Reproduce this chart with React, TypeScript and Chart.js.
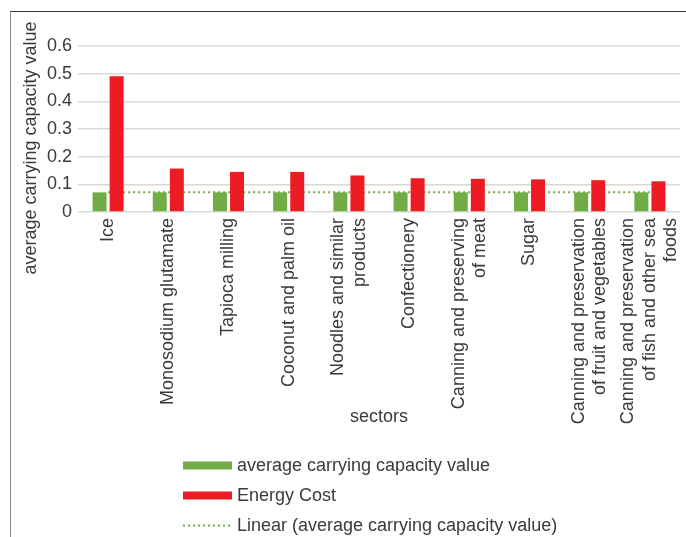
import React, { useEffect, useRef } from "react";
import { Chart, registerables } from "chart.js";

Chart.register(...registerables);

const sectors: string[][] = [
  ["Ice"],
  ["Monosodium glutamate"],
  ["Tapioca milling"],
  ["Coconut and palm oil"],
  ["Noodles and similar", "products"],
  ["Confectionery"],
  ["Canning and preserving", "of meat"],
  ["Sugar"],
  ["Canning and preservation", "of fruit and vegetables"],
  ["Canning and preservation", "of fish and other sea", "foods"],
];
const capacityValue = [0.071, 0.071, 0.071, 0.071, 0.071, 0.071, 0.071, 0.071, 0.071, 0.071];
const energyCost = [0.491, 0.157, 0.145, 0.145, 0.132, 0.122, 0.12, 0.118, 0.115, 0.111];
const linearTrend = [0.071, 0.071, 0.071, 0.071, 0.071, 0.071, 0.071, 0.071, 0.071, 0.071];
const yTicks = [0, 0.1, 0.2, 0.3, 0.4, 0.5, 0.6];

const seriesNames = [
  "average carrying capacity value",
  "Energy Cost",
  "Linear (average carrying capacity value)",
];
const yTitle = "average carrying capacity value";
const xTitle = "sectors";

const GREEN = "#70ad47";
const RED = "#ed1c24";
const TEXT = "#3a3a3a";
const FONT = '18px "Liberation Sans", Arial, sans-serif';

// axis titles, rotated multi-line category labels and the stacked legend
const annotate = {
  id: "annotate",
  afterDraw(chart: Chart) {
    const { ctx, chartArea } = chart;
    const x = chart.scales.x;
    ctx.save();
    ctx.font = FONT;
    ctx.fillStyle = TEXT;

    (chart.data.labels as string[][]).forEach((lines, i) => {
      ctx.save();
      ctx.translate(x.getPixelForValue(i), chartArea.bottom + 6);
      ctx.rotate(-Math.PI / 2);
      ctx.textAlign = "right";
      ctx.textBaseline = "middle";
      lines.forEach((line, j) => {
        ctx.fillText(line, 0, (j - (lines.length - 1) / 2) * 21.5);
      });
      ctx.restore();
    });

    ctx.textAlign = "center";
    ctx.textBaseline = "middle";
    ctx.fillText(xTitle, (chartArea.left + chartArea.right) / 2, 417);

    ctx.save();
    ctx.translate(31, 148);
    ctx.rotate(-Math.PI / 2);
    ctx.fillText(yTitle, 0, 0);
    ctx.restore();

    const ds = chart.data.datasets;
    ctx.textAlign = "left";
    ds.forEach((d: any, i) => {
      const y = 465.5 + i * 30;
      if (d.type === "line") {
        ctx.save();
        ctx.strokeStyle = d.borderColor;
        ctx.lineWidth = 2;
        ctx.setLineDash([2, 3]);
        ctx.beginPath();
        ctx.moveTo(183, y);
        ctx.lineTo(232, y);
        ctx.stroke();
        ctx.restore();
      } else {
        ctx.fillStyle = d.backgroundColor;
        ctx.fillRect(183, y - 4, 49, 8);
      }
      ctx.fillStyle = TEXT;
      ctx.fillText(d.label, 237, y + 1);
    });
    ctx.restore();
  },
};

const App: React.FC = () => {
  const chartRef = useRef<HTMLCanvasElement>(null);

  useEffect(() => {
    const ctx = chartRef.current!;
    const chart = new Chart(ctx, {
      type: "bar",
      data: {
        labels: sectors as any,
        datasets: [
          {
            type: "bar",
            label: seriesNames[0],
            data: capacityValue,
            backgroundColor: GREEN,
            categoryPercentage: 0.567,
            barPercentage: 0.82,
            order: 1,
          },
          {
            type: "bar",
            label: seriesNames[1],
            data: energyCost,
            backgroundColor: RED,
            categoryPercentage: 0.567,
            barPercentage: 0.82,
            order: 2,
          },
          {
            type: "line",
            label: seriesNames[2],
            data: linearTrend,
            borderColor: GREEN,
            borderWidth: 2,
            borderDash: [2, 3],
            pointRadius: 0,
            fill: false,
            order: 3,
          } as any,
        ],
      },
      options: {
        responsive: false,
        animation: false,
        layout: { padding: { top: 46, right: 6, left: 0, bottom: 0 } },
        plugins: {
          legend: { display: false },
          tooltip: { enabled: false },
        },
        scales: {
          x: {
            ticks: { display: false },
            grid: { display: false },
            border: { display: false },
            afterFit: (s: any) => {
              s.height = 537 - 212;
            },
          },
          y: {
            min: yTicks[0],
            max: yTicks[yTicks.length - 1],
            ticks: {
              stepSize: 0.1,
              padding: 6,
              color: TEXT,
              font: { family: '"Liberation Sans", Arial, sans-serif', size: 18 },
            },
            grid: { color: "#d9d9d9", lineWidth: 1.5, drawTicks: false },
            border: { display: false },
            afterFit: (s: any) => {
              s.width = 78;
            },
          },
        },
      },
      plugins: [annotate as any],
    });

    return () => {
      chart.destroy();
    };
  }, []);

  return (
    <div style={{ position: "absolute", left: 0, top: 0, width: 686, height: 537 }}>
      <div
        style={{
          position: "absolute",
          left: 10,
          top: 11,
          right: 0,
          bottom: 0,
          borderTop: "1px solid #333",
          borderLeft: "1px solid #8a8a8a",
        }}
      />
      <canvas
        ref={chartRef}
        width={686}
        height={537}
        style={{ position: "absolute", left: 0, top: 0 }}
      ></canvas>
    </div>
  );
};

export default App;
